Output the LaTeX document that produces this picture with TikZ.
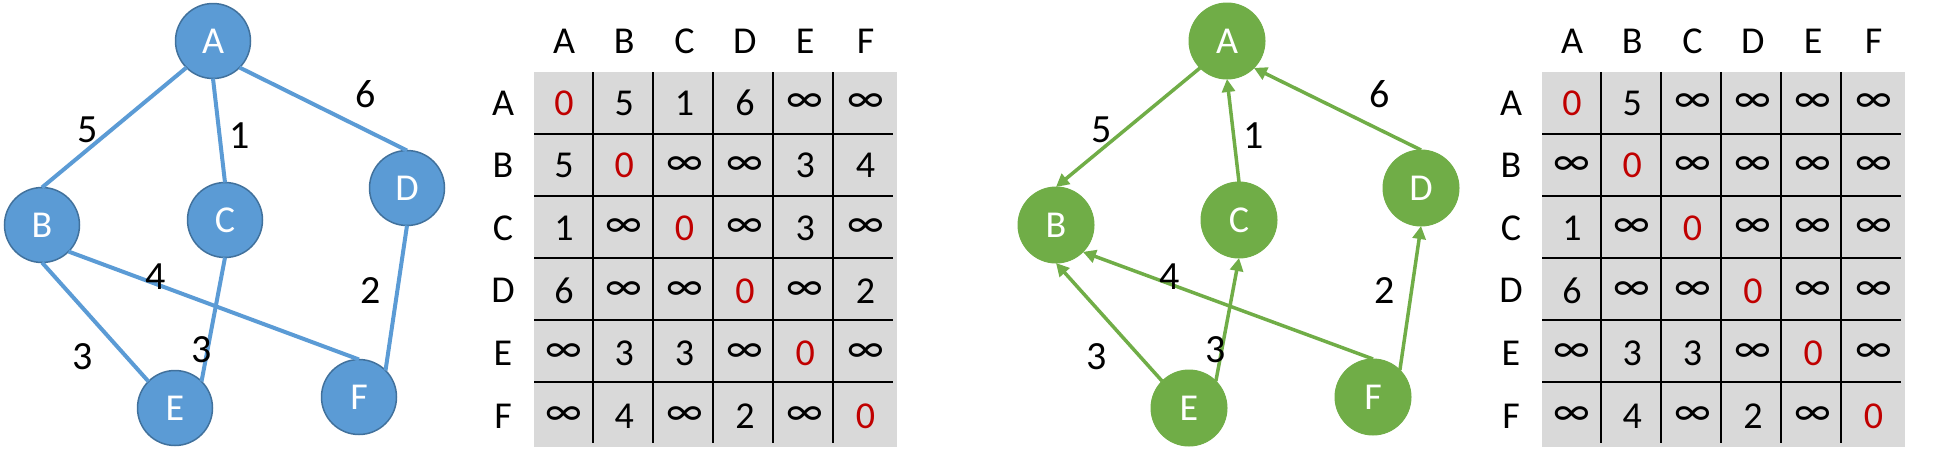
\documentclass[tikz,border=0pt]{standalone}
\usepackage{fontspec}
\setmainfont{Carlito}
\usetikzlibrary{arrows.meta}
\definecolor{bluefill}{HTML}{5B9BD5}
\definecolor{blueedge}{HTML}{41719C}
\definecolor{greenfill}{HTML}{70AD47}
\definecolor{cellgrey}{HTML}{D9D9D9}
\definecolor{zerored}{HTML}{C00000}
\newcommand{\infsym}{{\fontsize{43}{43}\selectfont ∞}}
\tikzset{
  bnode/.style={circle, fill=bluefill, draw=blueedge, line width=1.5pt, minimum size=75pt, inner sep=0pt, outer sep=0pt, text=white, font=\fontsize{38}{38}\selectfont},
  gnode/.style={circle, fill=greenfill, draw=greenfill, line width=1pt, minimum size=76pt, inner sep=0pt, outer sep=0pt, text=white, font=\fontsize{38}{38}\selectfont},
  bedge/.style={draw=bluefill, line width=4pt},
  gedge/.style={draw=greenfill, line width=3.5pt, -{Triangle[length=13pt,width=13pt]}},
  wlabel/.style={inner sep=0pt, font=\fontsize{40}{40}\selectfont},
  head/.style={inner sep=0pt, font=\fontsize{38}{38}\selectfont},
  cellnum/.style={inner sep=0pt, font=\fontsize{38}{38}\selectfont},
  gridline/.style={draw=black, line width=2pt},
}
\begin{document}
\begin{tikzpicture}[x=1pt,y=-1pt]
\useasboundingbox (0,0) rectangle (1934,472);

% ---------- left graph ----------
\node[bnode] (LA) at (213,41) {A};
\node[bnode] (LB) at (42,225) {B};
\node[bnode] (LC) at (225,220) {C};
\node[bnode] (LD) at (407,188) {D};
\node[bnode] (LE) at (175,408) {E};
\node[bnode] (LF) at (359,397) {F};
\path[bedge] (LA.south west) -- (LB.north);
\path[bedge] (LA.south) -- (LC.north);
\path[bedge] (LA.south east) -- (LD.north);
\path[bedge] (LB.south east) -- (LF.north);
\path[bedge] (LB.south) -- (LE.north west);
\path[bedge] (LC.south) -- (LE.north east);
\path[bedge] (LD.south) -- (LF.north east);
\node[wlabel] (Lw5) at (88,130) {5};
\node[wlabel] (Lw1) at (240,136) {1};
\node[wlabel] (Lw6) at (366,94) {6};
\node[wlabel] (Lw4) at (156,277) {4};
\node[wlabel] (Lw2) at (371,291) {2};
\node[wlabel] (Lw3a) at (83,357) {3};
\node[wlabel] (Lw3b) at (202,350) {3};

% ---------- right graph ----------
\node[gnode] (RA) at (1227,41) {A};
\node[gnode] (RB) at (1056,225) {B};
\node[gnode] (RC) at (1239,220) {C};
\node[gnode] (RD) at (1421,188) {D};
\node[gnode] (RE) at (1189,408) {E};
\node[gnode] (RF) at (1373,397) {F};
\path[gedge] (RA.south west) -- (RB.north);
\path[gedge] (RC.north) -- (RA.south);
\path[gedge] (RD.north) -- (RA.south east);
\path[gedge] (RF.north) -- (RB.south east);
\path[gedge] (RE.north west) -- (RB.south);
\path[gedge] (RE.north east) -- (RC.south);
\path[gedge] (RF.north east) -- (RD.south);
\node[wlabel] (Rw5) at (1102,130) {5};
\node[wlabel] (Rw1) at (1254,136) {1};
\node[wlabel] (Rw6) at (1380,94) {6};
\node[wlabel] (Rw4) at (1170,277) {4};
\node[wlabel] (Rw2) at (1385,291) {2};
\node[wlabel] (Rw3a) at (1097,357) {3};
\node[wlabel] (Rw3b) at (1216,350) {3};

% ---------- tables ----------
\foreach \pre/\dx/\vals in {
  L/0/{{0,5,1,6,\infsym,\infsym},{5,0,\infsym,\infsym,3,4},{1,\infsym,0,\infsym,3,\infsym},{6,\infsym,\infsym,0,\infsym,2},{\infsym,3,3,\infsym,0,\infsym},{\infsym,4,\infsym,2,\infsym,0}},
  R/1008/{{0,5,\infsym,\infsym,\infsym,\infsym},{\infsym,0,\infsym,\infsym,\infsym,\infsym},{1,\infsym,0,\infsym,\infsym,\infsym},{6,\infsym,\infsym,0,\infsym,\infsym},{\infsym,3,3,\infsym,0,\infsym},{\infsym,4,\infsym,2,\infsym,0}}}{
  \begin{scope}[xshift=\dx]
    \fill[cellgrey] (534,72) rectangle (897,447);
    \foreach \vx in {593,653,713,773,833}{
      \draw[gridline] (\vx,72) -- (\vx,443);
    }
    \foreach \hy in {134,196,258,320,382}{
      \draw[gridline] (534,\hy) -- (893,\hy);
    }
    \foreach \lab [count=\i from 0] in {A,B,C,D,E,F}{
      \node[head] (\pre H\lab) at (564+60.3*\i,41) {\lab};
      \node[head] (\pre R\lab) at (503,103+62.6*\i) {\lab};
    }
    \foreach \row [count=\r from 0] in \vals {
      \foreach \v [count=\c from 0] in \row {
        \ifnum\r=\c \def\tc{zerored}\else\def\tc{black}\fi
        \node[cellnum, text=\tc] (\pre c\r\c) at (564+60.3*\c,103+62.6*\r) {\v};
      }
    }
  \end{scope}
}
\end{tikzpicture}
\end{document}
